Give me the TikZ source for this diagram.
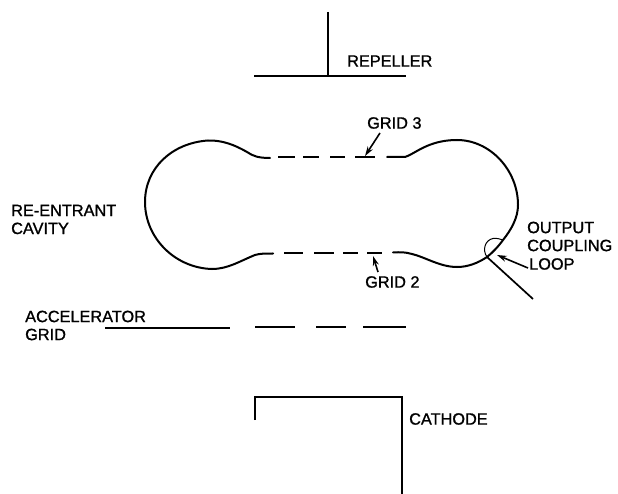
\documentclass[tikz,border=0pt]{standalone}
\usepackage{fontspec}
\setmainfont{Liberation Sans}
\newfontfamily\lblfont[RawFeature={embolden=1.2}]{Liberation Sans}
\usepackage{tikz}
\usetikzlibrary{arrows.meta, calc}

\begin{document}
\begin{tikzpicture}[
  x=1pt, y=-1pt,
  lbl/.style={inner sep=0pt, anchor=west, align=left, font=\lblfont\fontsize{16.3}{18}\selectfont},
  wall/.style={line width=2pt, line cap=round},
  grid/.style={line width=2pt},
  wire/.style={line width=1.7pt},
  lead/.style={-{Stealth[length=3.4mm, width=2.1mm]}, line width=1.6pt}
]
  \useasboundingbox (0,0) rectangle (618,494);

  % Repeller
  \coordinate (repTop) at (328,12);
  \coordinate (repMid) at (328,76);
  \coordinate (repL) at (254,76);
  \coordinate (repR) at (406,76);
  \draw[wire] (repTop) -- (repMid);
  \draw[wire] (repL) -- (repR);
  \node[lbl] (repeller) at (347,61) {REPELLER};

  % Cavity walls
  \draw[wall] (270,158) .. controls (258,158) and (253,156) .. (247,152)
     .. controls (235,145) and (222,140) .. (208,140.5)
     .. controls (172,143) and (145,168) .. (145,202)
     .. controls (145,238) and (175,268) .. (212,269)
     .. controls (228,269) and (240,261) .. (255,255)
     .. controls (260,253.5) and (265,253.5) .. (273,253.5);
  \draw[wall] (387,157) -- (405,157)
     .. controls (415,154) and (428,140) .. (457,140)
     .. controls (490,140) and (518,170) .. (518,205)
     .. controls (518,218) and (511,230) .. (503,240)
     .. controls (498,247) and (492,253) .. (487,257)
     .. controls (478,263) and (468,267) .. (457,267)
     .. controls (440,267) and (425,257) .. (412,254)
     .. controls (405,252) and (400,252) .. (393,252.5);

  % Grid 3 (top)
  \foreach \xa/\xb in {278/295, 303/319, 330/345, 355/375}
    \draw[grid] (\xa,157) -- (\xb,157);
  % Grid 2 (bottom)
  \foreach \xa/\xb in {284/303, 314/334, 343/358, 367/382}
    \draw[grid] (\xa,253.5) -- (\xb,253.5);
  % Accelerator grid
  \coordinate (accL) at (105,328);
  \coordinate (accR) at (230,328);
  \draw[wire] (accL) -- (accR);
  \foreach \xa/\xb in {255/295, 316/346, 363/406}
    \draw[wire] (\xa,327) -- (\xb,327);

  % Labels
  \node[lbl] (grid3) at (367,123) {GRID 3};
  \node[lbl] (grid2) at (365,282) {GRID 2};
  \node[lbl] (cavity) at (11,219.5) {RE-ENTRANT\\CAVITY};
  \node[lbl] (output) at (527,236.5) {OUTPUT\\COUPLING};
  \node[lbl] (loop) at (529,264) {LOOP};
  \node[lbl] (accel) at (25,325.5) {ACCELERATOR\\GRID};
  \node[lbl] (cathode) at (409,419) {CATHODE};

  % Leaders
  \coordinate (g3tip) at (365,156);
  \coordinate (g2tip) at (373,256);
  \coordinate (looptip) at (497,255);
  \draw[lead] ($(grid3.south west)+(13,4)$) -- (g3tip);
  \draw[lead] ($(grid2.north west)+(13,-4)$) -- (g2tip);
  \draw[lead] ($(loop.west)+(-1,4)$) -- (looptip);

  % Coupling loop
  \coordinate (loopFoot) at (487,257);
  \coordinate (loopHead) at (503,240);
  \coordinate (loopEnd) at (533,299);
  \draw[line width=1pt] (loopFoot) .. controls (482,250) and (485,240) .. (493,238.5)
     .. controls (497,238) and (500,239) .. (loopHead);
  \draw[wire] (loopFoot) -- (loopEnd);

  % Cathode
  \coordinate (catA) at (255,420);
  \coordinate (catB) at (255,397);
  \coordinate (catC) at (402,397);
  \coordinate (catD) at (402,494);
  \draw[wire] (catA) -- (catB) -- (catC) -- (catD);
\end{tikzpicture}
\end{document}
